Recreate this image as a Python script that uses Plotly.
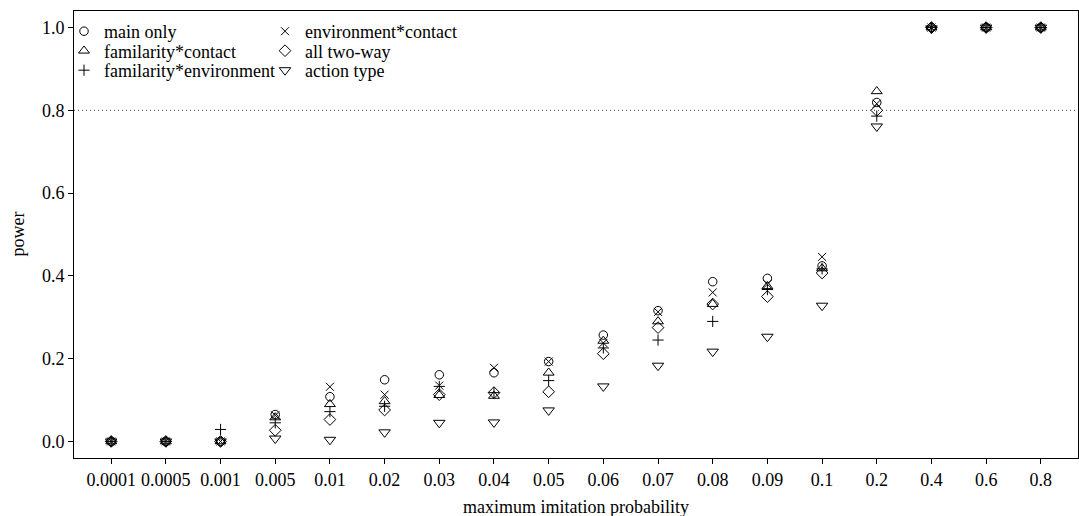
import plotly.graph_objects as go

categories = ["0.0001", "0.0005", "0.001", "0.005", "0.01", "0.02", "0.03", "0.04", "0.05",
              "0.06", "0.07", "0.08", "0.09", "0.1", "0.2", "0.4", "0.6", "0.8"]

main_only   = [0, 0, 0,     0.065, 0.108, 0.149, 0.161, 0.166, 0.193, 0.257, 0.316, 0.386, 0.394, 0.424, 0.819, 1, 1, 1]
fam_contact = [0, 0, 0,     0.058, 0.090, 0.097, 0.112, 0.110, 0.166, 0.243, 0.290, 0.332, 0.375, 0.418, 0.846, 1, 1, 1]
fam_env     = [0, 0, 0.029, 0.045, 0.072, 0.085, 0.133, 0.118, 0.147, 0.226, 0.245, 0.290, 0.367, 0.417, 0.786, 1, 1, 1]
env_contact = [0, 0, 0,     0.063, 0.132, 0.113, 0.135, 0.178, 0.193, 0.238, 0.313, 0.360, 0.380, 0.446, 0.816, 1, 1, 1]
all_two_way = [0, 0, 0,     0.027, 0.053, 0.076, 0.113, 0.118, 0.120, 0.212, 0.275, 0.332, 0.350, 0.407, 0.800, 1, 1, 1]
action_type = [0, 0, 0,     0.007, 0.004, 0.022, 0.045, 0.046, 0.075, 0.133, 0.183, 0.217, 0.253, 0.328, 0.761, 0.998, 1, 1]

series_names = ["main only", "familarity*contact", "familarity*environment",
                "environment*contact", "all two-way", "action type"]
series_values = [main_only, fam_contact, fam_env, env_contact, all_two_way, action_type]

yticks = [0.0, 0.2, 0.4, 0.6, 0.8, 1.0]
threshold = 0.8

FONT = "Liberation Serif"
FS = 18
W, H = 1079, 516
L, R, T, B = 74, 1, 11, 58
PW, PH = W - L - R, H - T - B

symbols = ["circle-open", "triangle-up-open", "cross-thin-open",
           "x-thin-open", "diamond-open", "triangle-down-open"]
sizes = [8.5, 9.5, 8, 8, 9, 10]
# legend marker centres in pixels (col, row)
leg_px = [(84, 31.5), (84, 51), (84, 70.5), (285, 31.5), (285, 51), (285, 70.5)]

fig = go.Figure()
layout_legends = {}
for i, (name, vals) in enumerate(zip(series_names, series_values)):
    key = "legend" if i == 0 else f"legend{i+1}"
    fig.add_trace(go.Scatter(
        x=categories, y=vals, mode="markers", name=name,
        legend=key,
        marker=dict(symbol=symbols[i], size=sizes[i], color="black",
                    line=dict(color="black", width=1)),
    ))
    mx, my = leg_px[i]
    layout_legends[key] = dict(
        x=(mx - 20 - L) / PW, y=(H - B - my) / PH,
        xanchor="left", yanchor="middle",
        bgcolor="rgba(0,0,0,0)", borderwidth=0,
        font=dict(family=FONT, size=FS, color="black"),
        itemwidth=30, tracegroupgap=0,
    )

fig.add_shape(type="line", xref="paper", x0=0, x1=1, yref="y", y0=threshold, y1=threshold,
              line=dict(color="#444", width=1, dash="1px,3px"), layer="below")

fig.update_layout(
    width=W, height=H,
    margin=dict(l=L, r=R, t=T, b=B, pad=0),
    paper_bgcolor="white", plot_bgcolor="white",
    font=dict(family=FONT, size=FS, color="black"),
    showlegend=True,
    **layout_legends,
    xaxis=dict(type="category", range=[-0.68, len(categories) - 1 + 0.68],
               showgrid=False, zeroline=False, showline=True, mirror=True,
               linecolor="black", linewidth=1, ticks="outside", ticklen=5,
               tickcolor="black", tickfont=dict(family=FONT, size=FS, color="black")),
    yaxis=dict(range=[-0.04, 1.04], tickvals=yticks, tickformat=".1f",
               showgrid=False, zeroline=False, showline=True, mirror=True,
               linecolor="black", linewidth=1, ticks="outside", ticklen=5,
               tickcolor="black", tickfont=dict(family=FONT, size=FS, color="black")),
    annotations=[
        dict(text="maximum imitation probability", xref="paper", yref="paper",
             x=0.5, y=(H - B - 507) / PH, xanchor="center", yanchor="middle",
             showarrow=False, font=dict(family=FONT, size=FS, color="black")),
        dict(text="power", xref="paper", yref="paper",
             x=(17 - L) / PW, y=0.5, xanchor="center", yanchor="middle", textangle=-90,
             showarrow=False, font=dict(family=FONT, size=FS, color="black")),
    ],
)

fig.write_html("out.html")
